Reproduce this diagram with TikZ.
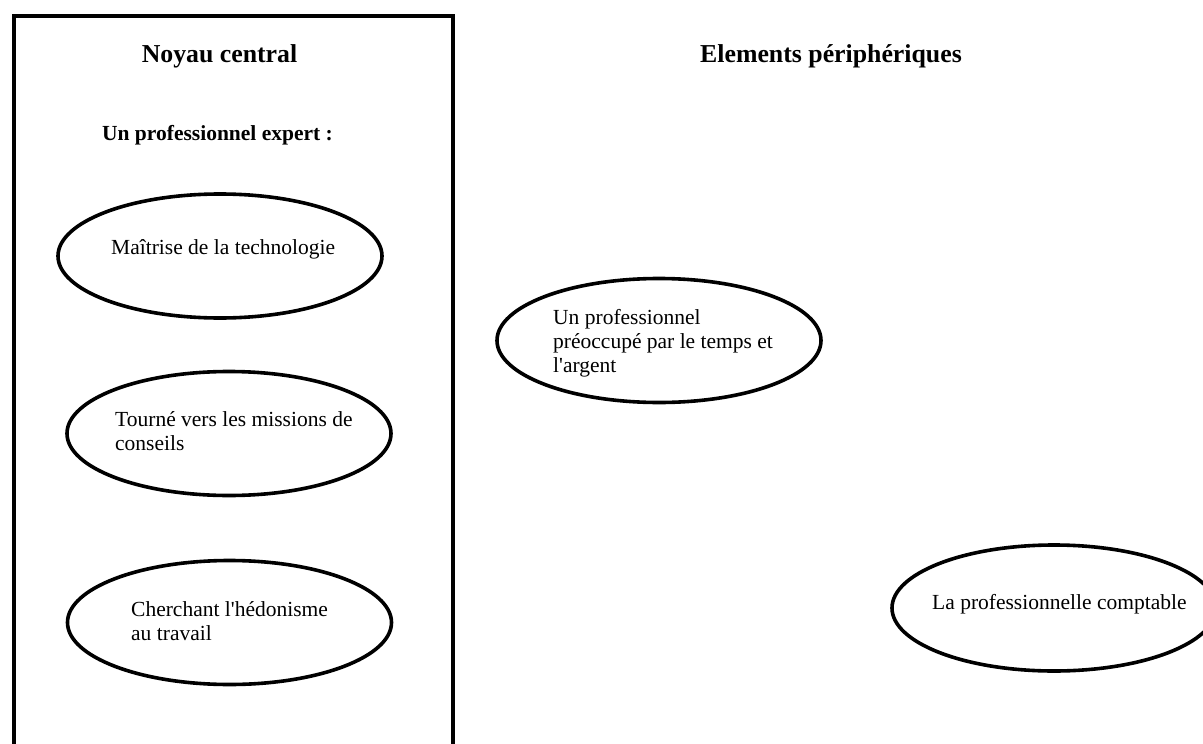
\documentclass[tikz,border=0pt]{standalone}
\usepackage{fontspec}
\newfontfamily\timesfont{Liberation Serif}
\usetikzlibrary{positioning,
				shapes.geometric}

\begin{document}
\begin{tikzpicture}[x=1pt,y=-1pt,
  ovale/.style={ellipse,draw,line width=3.6pt,minimum width=324pt,minimum height=124pt,inner sep=0pt},
  texte/.style={anchor=base west,inner sep=0pt,align=left,font=\timesfont\fontsize{21.5}{24}\selectfont},
  titre/.style={anchor=base,inner sep=0pt,font=\timesfont\fontsize{25.8}{30}\selectfont\bfseries}]
  \clip (0,0) rectangle (1203,744);
  \fill[white] (0,0) rectangle (1203,744);
  % cadre du noyau central
  \draw[line width=4pt] (14,760) -- (14,15.5) -- (453,15.5) -- (453,760);
  \node[titre] (noyau) at (219.5,62) {Noyau central};
  \node[titre] (periph) at (831,62) {Elements périphériques};
  \node[titre,font=\timesfont\fontsize{21.5}{24}\selectfont\bfseries] (expert) at (217.5,140) {Un professionnel expert :};
  % ellipses
  \node[ovale] (maitrise) at (220,256) {};
  \node[ovale] (conseil) at (229,433.5) {};
  \node[ovale] (hedon) at (229.5,622.5) {};
  \node[ovale] (temps) at (659,340.5) {};
  \node[ovale,minimum height=126pt] (compta) at (1054,608) {};
  % textes (ancre sur la derniere ligne)
  \node[texte] (tmaitrise) at (111,254) {Maîtrise de la technologie};
  \node[texte] (tconseil) at (115,450) {Tourné vers les missions de\\conseils};
  \node[texte] (thedon) at (131,640) {Cherchant l'hédonisme\\au travail};
  \node[texte] (ttemps) at (553,372) {Un professionnel\\préoccupé par le temps et\\l'argent};
  \node[texte] (tcompta) at (932,609) {La professionnelle comptable};
\end{tikzpicture}
\end{document}
